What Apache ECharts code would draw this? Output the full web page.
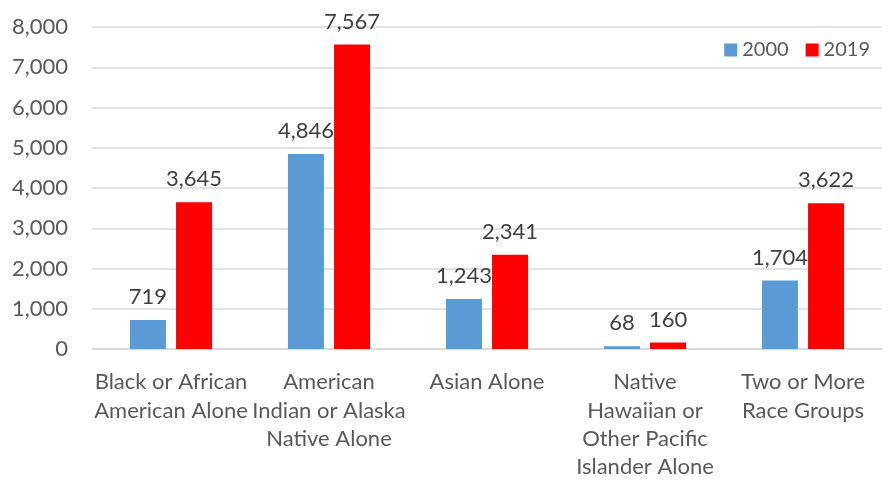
<!DOCTYPE html>
<html><head><meta charset="utf-8">
<script src="https://cdn.jsdelivr.net/npm/echarts@6/dist/echarts.min.js"></script>
<style>html,body{margin:0;padding:0;background:#fff}#c{width:895px;height:483px}</style>
</head><body><div id="c"></div>
<script>
const categories = [
  "Black or African\nAmerican Alone",
  "American\nIndian or Alaska\nNative Alone",
  "Asian Alone",
  "Native\nHawaiian or\nOther Pacific\nIslander Alone",
  "Two or More\nRace Groups"
];
const values2000 = [719, 4846, 1243, 68, 1704];
const values2019 = [3645, 7567, 2341, 160, 3622];
const seriesNames = ["2000", "2019"];
const yTicks = {min: 0, max: 8000, interval: 1000};

const font = "Lato, sans-serif";
const fs = 22;
const chart = echarts.init(document.getElementById('c'), null, {renderer: 'canvas'});
const lbl = {show: true, position: 'top', distance: 12, fontFamily: font, fontSize: fs, color: '#404040',
  formatter: p => p.value.toLocaleString('en-US')};
chart.setOption({
  animation: false,
  textStyle: {fontFamily: font},
  legend: {
    right: 20, top: 35, itemWidth: 13, itemHeight: 13, itemGap: 17,
    textStyle: {fontFamily: font, fontSize: 20, color: '#595959'},
    data: seriesNames.map(n => ({name: n, icon: 'rect'}))
  },
  grid: {left: 92, right: 13, top: 27, bottom: 134},
  xAxis: {
    type: 'category', data: categories,
    axisLine: {lineStyle: {color: '#d9d9d9', width: 1.5}},
    axisTick: {show: false},
    axisLabel: {fontFamily: font, fontSize: fs, color: '#595959', lineHeight: 28.3, margin: 19, interval: 0}
  },
  yAxis: {
    type: 'value', min: yTicks.min, max: yTicks.max, interval: yTicks.interval,
    axisLine: {show: false}, axisTick: {show: false},
    splitLine: {lineStyle: {color: '#d9d9d9', width: 1.5}},
    axisLabel: {fontFamily: font, fontSize: fs, color: '#595959', margin: 24,
      formatter: v => v.toLocaleString('en-US')}
  },
  series: [
    {name: seriesNames[0], type: 'bar', data: values2000, barWidth: 36, barGap: '28%',
      itemStyle: {color: '#5b9bd5'}, label: lbl},
    {name: seriesNames[1], type: 'bar', data: values2019, barWidth: 36,
      itemStyle: {color: '#ff0000'}, label: lbl}
  ]
});
</script></body></html>
